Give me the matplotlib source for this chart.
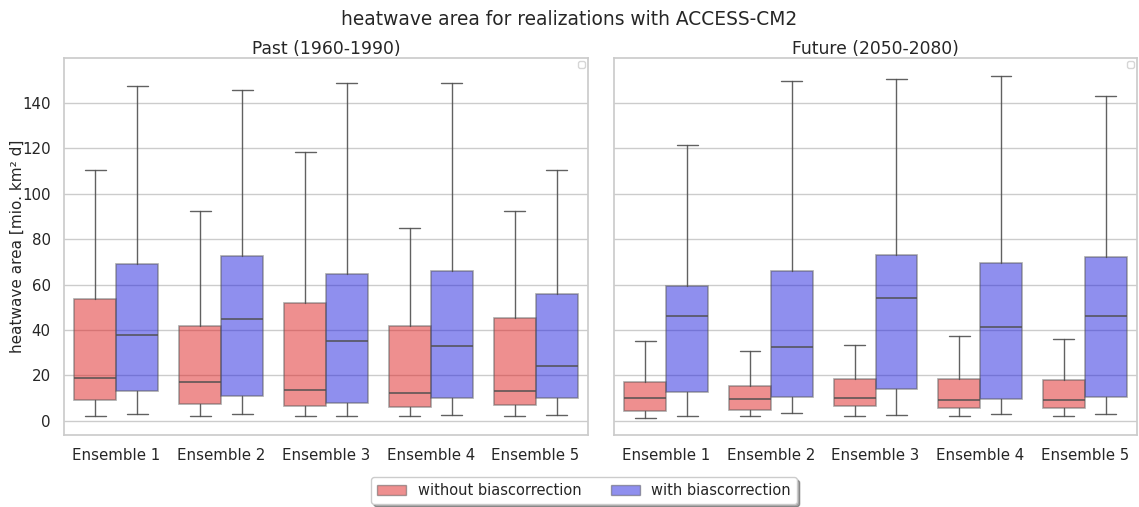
import matplotlib
matplotlib.use("Agg")
import matplotlib.pyplot as plt
from matplotlib.patches import Patch
import seaborn as sns

sns.set_theme(style="whitegrid")
plt.rcParams['font.family'] = ['DejaVu Sans']

ensembles = ["Ensemble 1", "Ensemble 2", "Ensemble 3", "Ensemble 4", "Ensemble 5"]
series = ["without biascorrection", "with biascorrection"]
colors = [(0.875, 0.125, 0.125), (0.125, 0.125, 0.875)]

# [whislo, q1, med, q3, whishi]
past_without = [[2, 9.2, 19, 53.7, 110.5],
                [2, 7.5, 17, 42, 92.5],
                [2, 6.5, 13.5, 52, 118.5],
                [2, 6, 12.5, 42, 85],
                [2, 7, 13, 45.5, 92.5]]
past_with = [[3, 13, 38, 69, 147.5],
             [3, 11, 45, 72.5, 145.5],
             [2, 8, 35, 64.5, 149],
             [2.5, 10, 33, 66, 149],
             [2.5, 10, 24, 56, 110.5]]
future_without = [[1.2, 4.5, 10, 17, 35.4],
                  [2, 5, 9.5, 15.5, 31],
                  [2, 6.5, 10, 18.5, 33.5],
                  [2, 5.5, 9, 18.5, 37.5],
                  [2, 5.5, 9, 18, 36]]
future_with = [[2.2, 12.8, 46, 59.6, 121.7],
               [3.5, 10.5, 32.5, 66, 149.5],
               [2.5, 14, 54, 73, 150.5],
               [3, 9.5, 41.5, 69.5, 152],
               [3, 10.5, 46, 72, 143]]

panels = [("Past (1960-1990)", past_without, past_with),
          ("Future (2050-2080)", future_without, future_with)]

W, H = 1139, 507
fig = plt.figure(figsize=(W / 100, H / 100), dpi=100)
ax0 = fig.add_axes([64 / W, 1 - 435 / H, 524 / W, 377 / H])
ax1 = fig.add_axes([614 / W, 1 - 435 / H, 523 / W, 377 / H], sharey=ax0)
axes = [ax0, ax1]

for ax, (title, wo, wi) in zip(axes, panels):
    for k, data in enumerate([wo, wi]):
        stats = []
        for row in data:
            stats.append(dict(whislo=row[0], q1=row[1], med=row[2], q3=row[3], whishi=row[4], fliers=[]))
        pos = [i - 0.2 + 0.4 * k for i in range(len(ensembles))]
        ax.bxp(stats, positions=pos, widths=0.4, patch_artist=True, showfliers=False,
               boxprops=dict(facecolor=colors[k], alpha=0.5, edgecolor='#555555', linewidth=1.2),
               whiskerprops=dict(color='#505050', linewidth=1.0, alpha=0.9),
               capprops=dict(color='#505050', linewidth=1.0, alpha=0.9),
               medianprops=dict(color='#505050', linewidth=1.2, alpha=0.9),
               manage_ticks=False)
    ax.set_xticks(range(len(ensembles)))
    ax.set_xticklabels(ensembles, fontsize=10.8)
    ax.set_xlim(-0.5, len(ensembles) - 0.5)
    ax.set_title(title, fontsize=12.3, pad=3)
    ax.tick_params(axis='y', labelsize=10.8)
    ax.grid(axis='x', visible=False)
    ax.legend(handles=[], loc='upper right', fontsize=6, borderpad=0.4, borderaxespad=0.4)

ax1.tick_params(axis='y', labelleft=False)
ax0.set_ylim(-6.2, 159.8)
ax0.set_yticks([0, 20, 40, 60, 80, 100, 120, 140])
ax0.set_ylabel("heatwave area [mio. km² d]", fontsize=11)
ax0.yaxis.set_label_coords(-0.075, 0.5)

fig.suptitle("heatwave area for realizations with ACCESS-CM2", fontsize=13.4, y=0.981)
handles = [Patch(facecolor=colors[0], alpha=0.5, edgecolor='#555555'),
           Patch(facecolor=colors[1], alpha=0.5, edgecolor='#555555')]
fig.legend(handles, series, loc='lower center', ncol=2, bbox_to_anchor=(584 / W, 3 / H),
           borderaxespad=0, fontsize=10.5, frameon=True, columnspacing=2.0, shadow=True)

fig.savefig("out.png", dpi=100)
